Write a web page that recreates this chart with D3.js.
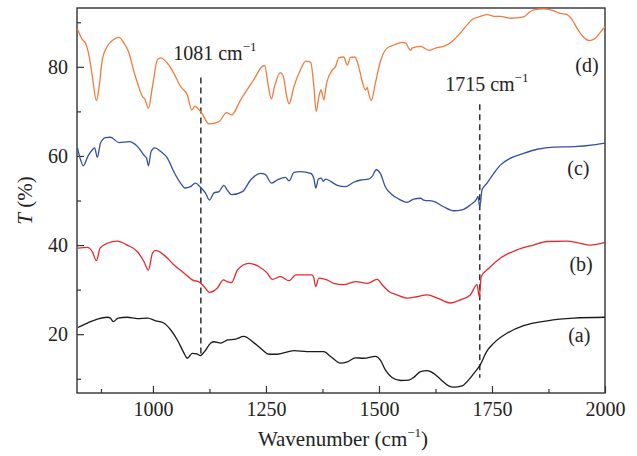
<!DOCTYPE html>
<html>
<head>
<meta charset="utf-8">
<script src="https://d3js.org/d3.v7.min.js"></script>
<style>
  body { margin: 0; background: #fff; }
  svg text { font-family: "Liberation Serif", "Times New Roman", serif; fill: #222; }
</style>
</head>
<body>
<svg id="chart"></svg>
<script>
// Spectra, [wavenumber (cm-1), T (%)]
const spectrumA = [[834,21.5],[855,22.5],[877,23.4],[899,23.8],[906,23.6],[912,22.8],[923,23.6],[943,23.8],[966,23.5],[988,23.6],[1006,23.0],[1024,22.5],[1039,21.0],[1054,18.7],[1067,16.1],[1076,14.6],[1087,15.7],[1097,15.6],[1105,15.2],[1114,16.1],[1128,18.0],[1135,18.3],[1150,18.0],[1165,18.7],[1183,18.9],[1201,19.5],[1223,18.1],[1242,16.5],[1256,15.5],[1275,15.5],[1312,16.3],[1341,16.1],[1378,16.1],[1393,15.0],[1415,13.5],[1430,13.8],[1448,14.7],[1466,14.6],[1492,15.0],[1503,14.2],[1514,12.0],[1529,10.3],[1548,9.6],[1566,9.7],[1577,10.3],[1592,11.6],[1607,11.8],[1621,11.2],[1636,9.9],[1654,8.4],[1665,8.1],[1684,8.4],[1698,9.7],[1713,11.6],[1724,13.1],[1738,16.1],[1754,18.0],[1783,20.2],[1820,21.9],[1872,23.0],[1931,23.6],[2000,23.8]];

const spectrumB = [[834,39.3],[855,39.5],[866,38.5],[875,36.5],[883,39.3],[899,40.4],[921,40.9],[943,40.0],[966,38.5],[980,36.3],[990,34.4],[999,38.2],[1006,38.8],[1024,37.8],[1046,35.6],[1069,33.7],[1087,32.2],[1104,31.6],[1113,30.7],[1125,29.4],[1142,30.3],[1156,32.2],[1164,31.8],[1174,31.6],[1187,34.4],[1212,35.9],[1234,35.2],[1253,33.7],[1264,32.3],[1282,32.9],[1301,32.0],[1316,33.3],[1352,33.3],[1356,32.6],[1360,30.7],[1367,32.6],[1385,32.2],[1400,31.4],[1422,31.1],[1448,31.8],[1474,31.4],[1496,32.3],[1507,31.1],[1522,29.6],[1540,28.8],[1562,28.1],[1584,28.4],[1607,28.8],[1629,28.1],[1658,27.0],[1680,27.7],[1702,28.8],[1717,31.1],[1722,28.4],[1726,32.9],[1743,34.8],[1769,37.1],[1805,38.9],[1842,40.0],[1872,40.8],[1916,40.9],[1945,40.4],[1967,40.0],[2000,40.6]];

const spectrumC = [[833,61.8],[840,59.1],[846,57.8],[856,59.9],[866,61.4],[871,61.8],[877,59.7],[884,62.9],[895,64.1],[906,64.2],[925,63.0],[947,63.2],[966,62.1],[980,60.2],[986,59.5],[990,57.8],[996,61.0],[1004,61.8],[1017,61.0],[1032,59.5],[1046,56.5],[1061,53.9],[1071,52.8],[1083,53.1],[1094,53.9],[1104,53.1],[1116,51.7],[1125,50.1],[1135,51.7],[1146,52.0],[1157,53.4],[1164,52.4],[1174,51.3],[1198,52.0],[1216,54.6],[1238,56.1],[1249,55.8],[1262,53.9],[1275,54.6],[1293,55.2],[1301,54.4],[1312,56.3],[1326,56.5],[1349,56.1],[1356,55.0],[1360,52.8],[1366,54.8],[1372,55.0],[1377,54.3],[1382,54.8],[1393,54.3],[1408,53.4],[1426,53.1],[1444,54.1],[1459,54.6],[1477,54.8],[1485,55.4],[1494,56.9],[1503,56.1],[1514,53.1],[1529,51.3],[1544,50.3],[1562,49.6],[1577,50.3],[1592,50.5],[1599,50.1],[1621,49.8],[1643,48.6],[1665,47.7],[1684,47.9],[1702,49.0],[1716,50.3],[1719,50.9],[1723,48.6],[1728,52.4],[1739,53.9],[1754,56.1],[1769,58.0],[1791,59.5],[1820,60.6],[1850,61.5],[1886,62.0],[1931,62.1],[1975,62.5],[2000,62.9]];

const spectrumD = [[833,88.5],[844,86.1],[851,85.3],[859,82.3],[866,77.8],[875,72.4],[881,75.6],[888,81.6],[899,84.6],[910,85.9],[925,86.6],[936,85.3],[947,83.1],[958,78.9],[966,76.3],[977,73.3],[982,72.8],[990,70.7],[999,75.6],[1010,81.6],[1017,82.0],[1032,80.8],[1046,78.6],[1061,75.6],[1076,73.7],[1086,70.3],[1093,71.2],[1099,70.7],[1108,69.6],[1124,67.2],[1146,67.7],[1163,69.7],[1174,69.2],[1194,72.6],[1223,77.1],[1242,80.1],[1247,80.3],[1256,75.2],[1262,72.8],[1269,75.6],[1282,78.7],[1288,78.0],[1296,73.3],[1301,71.7],[1312,75.6],[1326,79.3],[1338,81.3],[1349,81.0],[1356,75.6],[1361,70.0],[1367,73.3],[1372,74.8],[1378,72.6],[1384,76.3],[1397,79.3],[1404,80.1],[1411,82.0],[1422,82.2],[1430,80.4],[1437,82.1],[1447,82.2],[1455,80.1],[1463,76.7],[1470,74.8],[1474,75.4],[1477,74.1],[1483,72.4],[1492,76.3],[1503,81.2],[1518,84.2],[1533,84.9],[1551,85.5],[1559,85.3],[1570,83.7],[1573,84.2],[1592,84.6],[1610,83.7],[1625,84.2],[1643,84.6],[1662,85.7],[1680,87.6],[1695,89.4],[1706,90.6],[1724,91.3],[1739,91.7],[1758,91.3],[1769,91.3],[1791,90.9],[1820,91.2],[1831,92.1],[1842,92.8],[1864,93.0],[1886,92.6],[1897,92.1],[1916,91.7],[1927,90.6],[1938,88.7],[1951,86.8],[1966,85.9],[1979,86.4],[1990,87.8],[2000,89.0]];

const seriesNames = ["(a)", "(b)", "(c)", "(d)"];
const seriesColors = ["#1a1a1a", "#e8282c", "#3350a3", "#f47b3e"];
// where each series label sits, [wavenumber, T]
const seriesLabelAt = [[1943, 18.2], [1947, 34.1], [1941, 55.8], [1960, 78.9]];

const xTicks = [1000, 1250, 1500, 1750, 2000];
const xMinorTicks = [885, 1125, 1375, 1625, 1875];
const yTicks = [20, 40, 60, 80];
const yMinorTicks = [10, 30, 50, 70, 90];

// dashed marker lines: drawn position, top/bottom value, label
const markers = [
  {wn: 1106, top: 77.6, bottom: 15.4, label: "1081"},
  {wn: 1723, top: 71.6, bottom: 10.2, label: "1715"}
];
const markerLabelOffset = [[14, -18], [7, -13]];

// Set dimensions and margins
const margin = {top: 8, right: 32, bottom: 63, left: 77};
const W = 637, H = 456;
const width = W - margin.left - margin.right;
const height = H - margin.top - margin.bottom;

const svg = d3.select("#chart").attr("width", W).attr("height", H);
const g = svg.append("g").attr("transform", `translate(${margin.left},${margin.top})`);

const x = d3.scaleLinear().domain([832, 2000]).range([0, width]);
const y = d3.scaleLinear().domain([6.8, 93.2]).range([height, 0]);

// Axes (ticks pointing inward)
g.append("g")
  .attr("transform", `translate(0,${height})`)
  .call(d3.axisBottom(x).tickValues(xTicks).tickSize(-7).tickPadding(9).tickFormat(d3.format("d")))
  .call(a => a.select(".domain").remove());
g.append("g")
  .attr("transform", `translate(0,${height})`)
  .call(d3.axisBottom(x).tickValues(xMinorTicks).tickSize(-4).tickFormat(""))
  .call(a => a.select(".domain").remove());
g.append("g")
  .call(d3.axisLeft(y).tickValues(yTicks).tickSize(-7).tickPadding(9))
  .call(a => a.select(".domain").remove());
g.append("g")
  .call(d3.axisLeft(y).tickValues(yMinorTicks).tickSize(-4).tickFormat(""))
  .call(a => a.select(".domain").remove());

g.selectAll(".tick line").attr("stroke", "#333").attr("stroke-width", 1.2);
g.selectAll(".tick text").style("font-size", "20px").attr("fill", "#222");

// Frame
g.append("rect")
  .attr("width", width).attr("height", height)
  .attr("fill", "none").attr("stroke", "#333").attr("stroke-width", 1.4);

// Dashed markers
markers.forEach((m, i) => {
  g.append("line")
    .attr("x1", x(m.wn)).attr("x2", x(m.wn))
    .attr("y1", y(m.top)).attr("y2", y(m.bottom))
    .attr("stroke", "#222").attr("stroke-width", 1.4)
    .attr("stroke-dasharray", "6,4");
  const t = g.append("text")
    .attr("x", x(m.wn) + markerLabelOffset[i][0])
    .attr("y", y(m.top) + markerLabelOffset[i][1])
    .attr("text-anchor", "middle")
    .style("font-size", "20px");
  t.append("tspan").text(m.label + " cm");
  t.append("tspan").text("\u22121").attr("dy", -9).style("font-size", "13px");
});

// Spectra
const line = d3.line()
  .x(d => x(d[0]))
  .y(d => y(d[1]))
  .curve(d3.curveMonotoneX);

[spectrumA, spectrumB, spectrumC, spectrumD].forEach((s, i) => {
  g.append("path")
    .datum(s)
    .attr("fill", "none")
    .attr("stroke", seriesColors[i])
    .attr("stroke-width", 1.3)
    .attr("d", line);
  g.append("text")
    .attr("x", x(seriesLabelAt[i][0])).attr("y", y(seriesLabelAt[i][1]))
    .attr("text-anchor", "middle")
    .style("font-size", "20px")
    .text(seriesNames[i]);
});

// Axis titles
const xt = svg.append("text")
  .attr("x", margin.left + width / 2 + 2).attr("y", 446)
  .attr("text-anchor", "middle")
  .style("font-size", "21px");
xt.append("tspan").text("Wavenumber (cm");
xt.append("tspan").text("\u22121").attr("dy", -9).style("font-size", "13px");
xt.append("tspan").text(")").attr("dy", 9);

const yt = svg.append("text")
  .attr("transform", `translate(32,${margin.top + height / 2}) rotate(-90)`)
  .attr("text-anchor", "middle")
  .style("font-size", "21px");
yt.append("tspan").text("T").style("font-style", "italic");
yt.append("tspan").text(" (%)");
</script>
</body>
</html>
